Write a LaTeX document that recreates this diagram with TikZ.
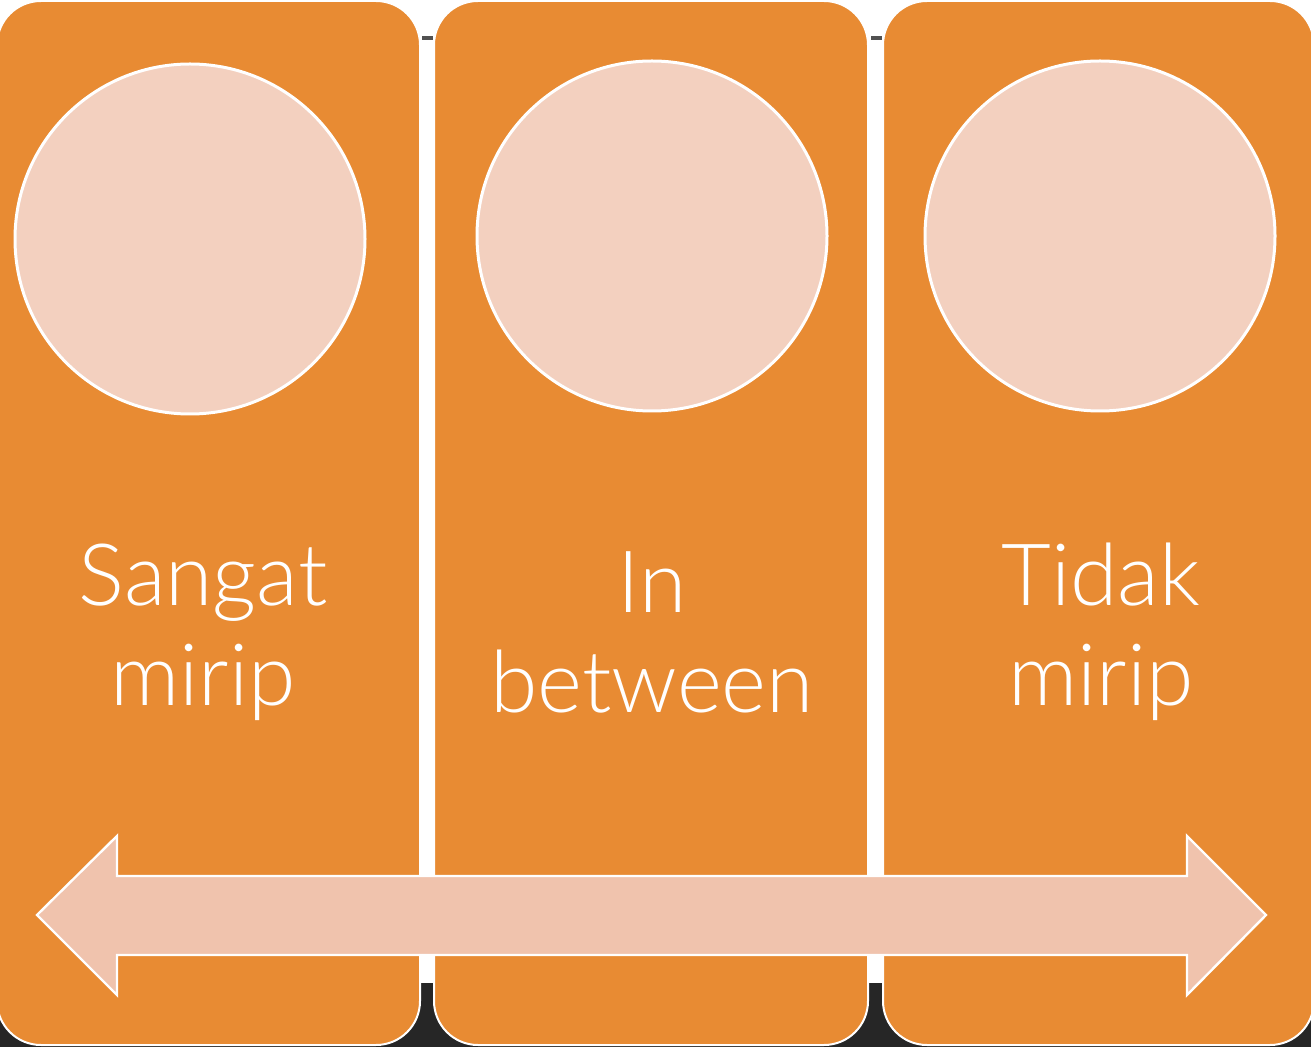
\documentclass[tikz,border=0pt]{standalone}
\usepackage{fontspec}
\setmainfont{Lato}[UprightFont={* Light}]
\definecolor{panelorange}{HTML}{E88B33}
\definecolor{discpink}{HTML}{F3D0BF}
\definecolor{arrowpink}{HTML}{F0C3AD}
\definecolor{basedark}{HTML}{262626}
\tikzset{
  panel/.style = {fill=panelorange, draw=white, line width=1pt, rounded corners=22pt},
  disc/.style  = {circle, fill=discpink, draw=white, line width=1.5pt, minimum size=175pt, inner sep=0pt},
  label/.style = {text=white, font=\fontsize{43}{50}\selectfont, align=center}
}
\begin{document}
\begin{tikzpicture}[x=0.5pt, y=-0.5pt]
    \useasboundingbox (0,0) rectangle (1311,1047);
    \fill[white] (0,0) rectangle (1311,1047);
    \fill[basedark] (0,983) rectangle (1311,1047);
    \foreach \x in {422, 871} \fill[basedark!80] (\x,36) rectangle (\x+11,40);
    \foreach \n/\l/\r in {1/-3/420, 2/434/868, 3/883/1314}
      \draw[panel] (\l,1) rectangle (\r,1045) coordinate (p\n);
    \node[disc] (c1) at (190,239) {};
    \node[disc] (c2) at (652,236) {};
    \node[disc] (c3) at (1100,236) {};
    \node[label] (t1) at (203,632) {Sangat\\mirip};
    \node[label] (t2) at (652,632) {In\\between};
    \node[label] (t3) at (1101,632) {Tidak\\mirip};
    \draw[fill=arrowpink, draw=white, line width=1.2pt]
      (37,915) -- (117,836) -- (117,876) -- (1187,876) -- (1187,836) -- (1266,915)
      -- (1187,995) -- (1187,955) -- (117,955) -- (117,995) -- cycle;
  \end{tikzpicture}
\end{document}
